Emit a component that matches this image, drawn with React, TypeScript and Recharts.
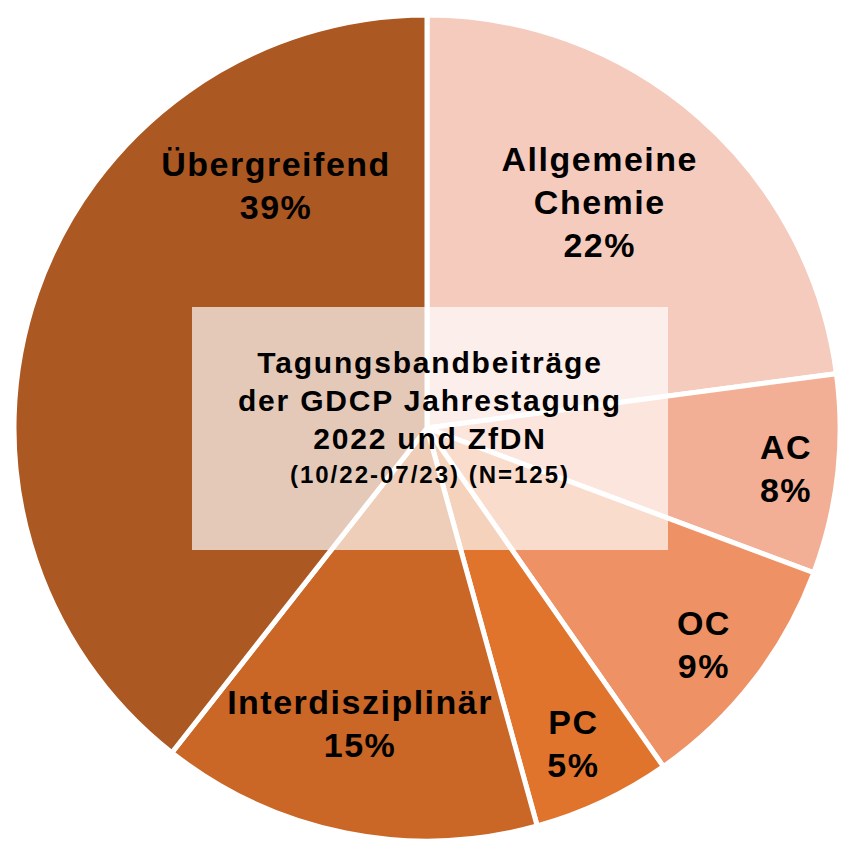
import React from 'react';
import { PieChart, Pie, Cell } from 'recharts';

// Slices clockwise from 12 o'clock
const categories = ['Allgemeine Chemie', 'AC', 'OC', 'PC', 'Interdisziplinär', 'Übergreifend'];
const shares = [22.9, 7.8, 9.6, 5.4, 14.9, 39.4];
const percentLabels = ['22%', '8%', '9%', '5%', '15%', '39%'];
const labelLines = [
  ['Allgemeine', 'Chemie', '22%'],
  ['AC', '8%'],
  ['OC', '9%'],
  ['PC', '5%'],
  ['Interdisziplinär', '15%'],
  ['Übergreifend', '39%'],
];
const sliceColors = ['#F4CBBD', '#F2AF95', '#EE9164', '#E1742D', '#CA6626', '#AC5822'];

// label placement: angle clockwise from top (deg), radius as fraction of the pie radius
const labelAngles = [37.4, 96.4, 128, 155.1, 192.75, 328.1];
const labelRadii = [0.692, 0.879, 0.855, 0.846, 0.738, 0.695];

const titleLines = ['Tagungsbandbeiträge', 'der GDCP Jahrestagung', '2022 und ZfDN'];
const subtitle = '(10/22-07/23) (N=125)';

const W = 846;
const H = 848;
const CX = 419;
const CY = 420;
const R = 411;
const FONT = '"Liberation Sans", Arial, Helvetica, sans-serif';

const data = categories.map((name, i) => ({
  name,
  value: shares[i],
  pct: percentLabels[i],
}));

function SliceLabel(props: any) {
  const { cx, cy, index } = props;
  const a = (labelAngles[index] * Math.PI) / 180;
  const r = labelRadii[index] * R;
  const x = cx + Math.sin(a) * r;
  const y = cy - Math.cos(a) * r;
  const lines = labelLines[index];
  const lh = 43;
  return (
    <text
      x={x}
      y={y}
      textAnchor="middle"
      fontFamily={FONT}
      fontWeight="bold"
      fontSize={34}
      letterSpacing={1.5}
      fill="#000"
    >
      {lines.map((t, i) => (
        <tspan key={i} x={x} y={y + (i - (lines.length - 1) / 2) * lh + 12}>
          {t}
        </tspan>
      ))}
    </text>
  );
}

export default function App() {
  return (
    <div style={styles.wrapper}>
      <PieChart width={W} height={H} margin={{ top: 0, right: 0, bottom: 0, left: 0 }}>
        <Pie
          data={data}
          dataKey="value"
          nameKey="name"
          cx={CX}
          cy={CY}
          outerRadius={R + 2}
          startAngle={90}
          endAngle={-270}
          stroke="#ffffff"
          strokeWidth={5}
          labelLine={false}
          label={SliceLabel}
          isAnimationActive={false}
        >
          {data.map((d, i) => (
            <Cell key={d.name} fill={sliceColors[i]} />
          ))}
        </Pie>
      </PieChart>

      {/* centre caption box */}
      <svg width={W} height={H} style={styles.overlay}>
        <rect x={184} y={299} width={476} height={243} fill="#ffffff" fillOpacity={0.68} />
        <text textAnchor="middle" fontFamily={FONT} fontWeight="bold" fill="#000">
          {titleLines.map((t, i) => (
            <tspan key={i} x={422} y={365 + i * 38} fontSize={30} letterSpacing={1.8}>
              {t}
            </tspan>
          ))}
          <tspan x={422} y={475} fontSize={24} letterSpacing={2}>
            {subtitle}
          </tspan>
        </text>
      </svg>
    </div>
  );
}

const styles: Record<string, React.CSSProperties> = {
  wrapper: {
    position: 'relative',
    width: W,
    height: H,
    background: '#ffffff',
  },
  overlay: {
    position: 'absolute',
    left: 0,
    top: 0,
    pointerEvents: 'none',
  },
};
